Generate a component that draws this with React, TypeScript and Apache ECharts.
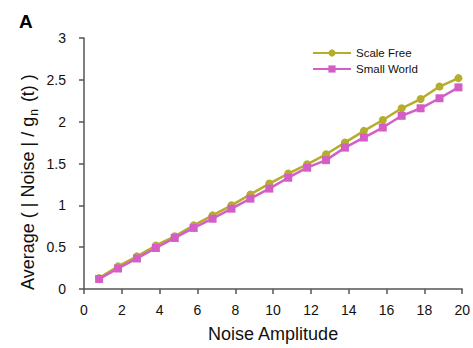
import React, { useEffect, useRef } from "react";
import * as echarts from "echarts";

const xValues = [0.8, 1.8, 2.8, 3.8, 4.8, 5.8, 6.8, 7.8, 8.8, 9.8, 10.8, 11.8, 12.8, 13.8, 14.8, 15.8, 16.8, 17.8, 18.8, 19.8];
const scaleFree = [0.13, 0.27, 0.39, 0.52, 0.63, 0.76, 0.88, 1.0, 1.13, 1.26, 1.38, 1.49, 1.61, 1.75, 1.89, 2.02, 2.16, 2.27, 2.42, 2.52];
const smallWorld = [0.12, 0.245, 0.365, 0.49, 0.61, 0.73, 0.84, 0.96, 1.08, 1.2, 1.33, 1.45, 1.54, 1.69, 1.81, 1.93, 2.07, 2.16, 2.28, 2.41];
const seriesNames = ["Scale Free", "Small World"];

const OLIVE = "#b5ad2c";
const MAGENTA = "#d45ec6";
const AXIS = "#555555";
const FONT = "Liberation Sans, Arial, sans-serif";

export default function App() {
  const ref = useRef<HTMLDivElement>(null);
  useEffect(() => {
    if (!ref.current) return;
    const chart = echarts.init(ref.current, null, { renderer: "svg" });
    chart.setOption({
      animation: false,
      textStyle: { fontFamily: FONT },
      grid: { left: 84, right: 10, top: 38, bottom: 53, containLabel: false },
      legend: {
        orient: "vertical",
        left: 307,
        top: 42,
        itemWidth: 38,
        itemHeight: 9,
        itemGap: 4,
        textStyle: { fontSize: 11.5, color: "#111", fontFamily: FONT },
        data: seriesNames,
      },
      title: {
        text: "A",
        left: 14,
        top: 7,
        textStyle: { fontSize: 19, fontWeight: "bold", color: "#000", fontFamily: FONT },
      },
      graphic: [
        {
          type: "text",
          x: 28,
          y: 182,
          rotation: Math.PI / 2,
          style: {
            text: "{a|Average ( | Noise | / g}{s|n}{a| (t) )}",
            align: "center",
            verticalAlign: "middle",
            rich: {
              a: { fontSize: 18, fill: "#111", fontFamily: FONT, lineHeight: 24, verticalAlign: "middle" },
              s: { fontSize: 12, fill: "#111", fontFamily: FONT, lineHeight: 24, verticalAlign: "bottom", padding: [8, 2, 0, 1] },
            },
          },
        },
      ],
      xAxis: {
        type: "value",
        min: 0,
        max: 20,
        interval: 2,
        name: "Noise Amplitude",
        nameLocation: "middle",
        nameGap: 36,
        nameTextStyle: { fontSize: 18, color: "#111", fontFamily: FONT },
        axisLine: { show: true, lineStyle: { color: AXIS, width: 1.5 } },
        axisTick: { show: true, length: 5, lineStyle: { color: AXIS, width: 1.5 } },
        axisLabel: { fontSize: 14, color: "#111", margin: 14 },
        splitLine: { show: false },
      },
      yAxis: {
        type: "value",
        min: 0,
        max: 3,
        interval: 0.5,
        axisLine: { show: true, lineStyle: { color: AXIS, width: 1.5 } },
        axisTick: { show: true, length: 5, lineStyle: { color: AXIS, width: 1.5 } },
        axisLabel: { fontSize: 14, color: "#111", margin: 18 },
        splitLine: { show: false },
      },
      series: [
        {
          name: seriesNames[0],
          type: "line",
          data: xValues.map((x, i) => [x, scaleFree[i]]),
          symbol: "circle",
          symbolSize: 8,
          itemStyle: { color: OLIVE },
          lineStyle: { color: OLIVE, width: 2.5 },
        },
        {
          name: seriesNames[1],
          type: "line",
          data: xValues.map((x, i) => [x, smallWorld[i]]),
          symbol: "rect",
          symbolSize: 8,
          itemStyle: { color: MAGENTA },
          lineStyle: { color: MAGENTA, width: 2.5 },
        },
      ],
    });
    return () => chart.dispose();
  }, []);
  return <div ref={ref} style={{ width: 473, height: 348, position: "absolute", left: 0, top: 0, background: "#fff" }} />;
}
